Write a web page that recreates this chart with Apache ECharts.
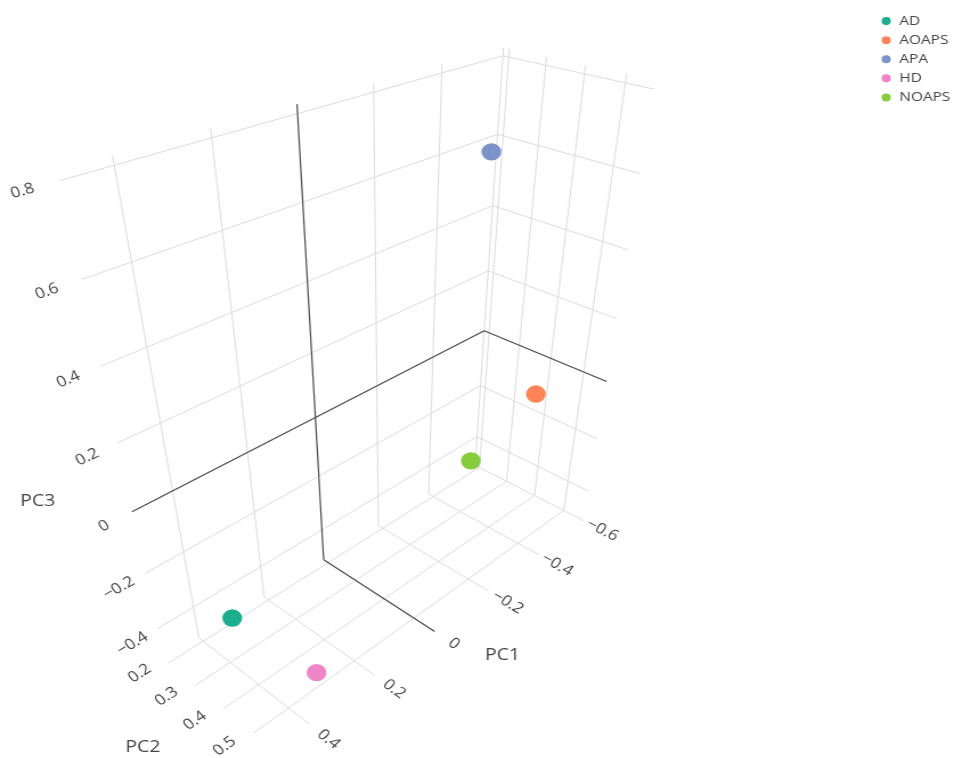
<!DOCTYPE html>
<html>
<head>
<meta charset="utf-8">
<script src="https://cdn.jsdelivr.net/npm/echarts@6/dist/echarts.min.js"></script>
<style>
  html, body { margin: 0; padding: 0; background: #ffffff; overflow: hidden; }
  /* the scene is laid out on an 851px canvas and widened to 970px */
  #chart { width: 851px; height: 758px; transform: scaleX(1.1398); transform-origin: 0 0; }
</style>
</head>
<body>
<div id="chart"></div>
<script>
// Group scores on the first three principal components
const groups = ['AD', 'AOAPS', 'APA', 'HD', 'NOAPS'];
const pc1 = [0.468, -0.568, -0.201, 0.325, -0.533];
const pc2 = [0.436, 0.389, 0.485, 0.513, 0.220];
const pc3 = [-0.185, -0.114, 0.741, -0.441, -0.441];
const groupColors = ['#1aae8f', '#fd8458', '#7b93c9', '#ee86c6', '#86cc3c'];

// Axis ranges, ticks and titles
const pc1Range = [-0.6, 0.5];
const pc2Range = [0.1834, 0.567];
const pc3Range = [-0.52, 0.82];
const pc1Ticks = [-0.6, -0.4, -0.2, 0, 0.2, 0.4];
const pc2Ticks = [0.2, 0.3, 0.4, 0.5];
const pc3Ticks = [-0.4, -0.2, 0, 0.2, 0.4, 0.6, 0.8];
const axisTitles = ['PC1', 'PC2', 'PC3'];

// Perspective camera looking at the middle of the box
const ranges = [pc1Range, pc2Range, pc3Range];
const target = ranges.map(r => (r[0] + r[1]) / 2);
const camAzimuth = 44 * Math.PI / 180;
const camElevation = Math.atan(1 / Math.SQRT2);
const camDistance = 2.2585;
const focal = 931;
const centerX = 343, centerY = 392;

const ce = Math.cos(camElevation), se = Math.sin(camElevation);
const ca = Math.cos(camAzimuth), sa = Math.sin(camAzimuth);
const fwd = [-ce * ca, -ce * sa, -se];
const rightVec = [-sa, ca, 0];
const upVec = [-se * ca, -se * sa, ce];
const eye = [target[0] + camDistance * ce * ca, target[1] + camDistance * ce * sa, target[2] + camDistance * se];

function dot(a, b) { return a[0] * b[0] + a[1] * b[1] + a[2] * b[2]; }
function project(p) {
  const d = [p[0] - eye[0], p[1] - eye[1], p[2] - eye[2]];
  const depth = dot(d, fwd);
  return [centerX + focal * dot(d, rightVec) / depth, centerY - focal * dot(d, upVec) / depth];
}
// readable rotation of a label running along a world direction
function labelRotation(p, dir) {
  const a = project(p);
  const b = project([p[0] + dir[0] * 0.05, p[1] + dir[1] * 0.05, p[2] + dir[2] * 0.05]);
  let ang = Math.atan2(b[1] - a[1], b[0] - a[0]);
  if (ang > Math.PI / 2) ang -= Math.PI;
  else if (ang < -Math.PI / 2) ang += Math.PI;
  return -ang;
}
function fmtTick(v) {
  const s = String(+Math.abs(v).toFixed(2));
  return v < -1e-9 ? '\u2212' + s : s;
}

// Grid walls: 0 = back wall at PC2 min, 1 = side wall at PC1 min, 2 = floor at PC3 min
function gridSegment(axis, v, wall) {
  const [x0, x1] = pc1Range, [y0, y1] = pc2Range, [z0, z1] = pc3Range;
  if (axis === 0) return wall === 0 ? [[v, y0, z0], [v, y0, z1]] : [[v, y0, z0], [v, y1, z0]];
  if (axis === 1) return wall === 1 ? [[x0, v, z0], [x0, v, z1]] : [[x0, v, z0], [x1, v, z0]];
  return wall === 0 ? [[x0, y0, v], [x1, y0, v]] : [[x0, y0, v], [x0, y1, v]];
}
const gridRows = [];
pc1Ticks.forEach(v => { gridRows.push([0, v, 0], [0, v, 2]); });
pc2Ticks.forEach(v => { gridRows.push([1, v, 1], [1, v, 2]); });
pc3Ticks.forEach(v => { gridRows.push([2, v, 0], [2, v, 1]); });
// zero lines are drawn last so they sit above the light grid
gridRows.sort((a, b) => (Math.abs(a[1]) < 1e-9 ? 1 : 0) - (Math.abs(b[1]) < 1e-9 ? 1 : 0));

// Tick label placement: just outside the labelled box edge
function tickAnchor(axis, v) {
  const [x0, x1] = pc1Range, [y0, y1] = pc2Range, [z0] = pc3Range;
  if (axis === 0) return { p: [v, y1 + 0.06, z0], dir: [0, 1, 0] };
  if (axis === 1) return { p: [x1 + 0.074, v, z0 + 0.027], dir: [1, 0, 0] };
  return { p: [x1 + 0.066, y0, v], dir: [1, 0, 0] };
}
function titleAnchor(axis) {
  const [x0, x1] = pc1Range, [y0, y1] = pc2Range, [z0] = pc3Range;
  if (axis === 0) return [target[0], y1 + 0.165, z0];
  if (axis === 1) return [x1 + 0.19, target[1], z0 + 0.02];
  return [x1 + 0.18, y0, target[2]];
}
const tickRows = [];
pc1Ticks.forEach(v => tickRows.push([0, v]));
pc2Ticks.forEach(v => tickRows.push([1, v]));
pc3Ticks.forEach(v => tickRows.push([2, v]));
const titleRows = [[0], [1], [2]];

const fontFamily = '"Open Sans", "Noto Sans", sans-serif';

const chart = echarts.init(document.getElementById('chart'));
chart.setOption({
  backgroundColor: '#ffffff',
  animation: false,
  legend: {
    orient: 'vertical',
    left: 768.5,
    top: 6.5,
    icon: 'circle',
    itemWidth: 13,
    itemHeight: 8,
    itemGap: 0,
    data: groups,
    textStyle: { color: '#444444', fontSize: 13.5, fontFamily: fontFamily, lineHeight: 19.1 }
  },
  series: [
    {
      type: 'custom',
      name: 'grid',
      coordinateSystem: 'none',
      silent: true,
      data: gridRows,
      renderItem: function (params, api) {
        const axis = api.value(0), v = api.value(1), wall = api.value(2);
        const seg = gridSegment(axis, v, wall).map(project);
        const zero = Math.abs(v) < 1e-9;
        return {
          type: 'line',
          shape: { x1: seg[0][0], y1: seg[0][1], x2: seg[1][0], y2: seg[1][1] },
          style: { stroke: zero ? '#4a4a4a' : '#dddddd', lineWidth: zero ? 1.2 : 1 }
        };
      }
    },
    {
      type: 'custom',
      name: 'ticks',
      coordinateSystem: 'none',
      silent: true,
      data: tickRows,
      renderItem: function (params, api) {
        const axis = api.value(0), v = api.value(1);
        const a = tickAnchor(axis, v);
        const s = project(a.p);
        return {
          type: 'text',
          x: s[0], y: s[1],
          rotation: labelRotation(a.p, a.dir),
          style: {
            text: fmtTick(v), fill: '#444444', fontSize: 15, fontFamily: fontFamily,
            align: 'center', verticalAlign: 'middle'
          }
        };
      }
    },
    {
      type: 'custom',
      name: 'titles',
      coordinateSystem: 'none',
      silent: true,
      data: titleRows,
      renderItem: function (params, api) {
        const axis = api.value(0);
        const s = project(titleAnchor(axis));
        return {
          type: 'text',
          x: s[0], y: s[1],
          style: {
            text: axisTitles[axis], fill: '#444444', fontSize: 17, fontFamily: fontFamily,
            align: 'center', verticalAlign: 'middle'
          }
        };
      }
    }
  ].concat(groups.map(function (g, i) {
    return {
      type: 'custom',
      name: g,
      coordinateSystem: 'none',
      itemStyle: { color: groupColors[i] },
      data: [[pc1[i], pc2[i], pc3[i]]],
      renderItem: function (params, api) {
        const s = project([api.value(0), api.value(1), api.value(2)]);
        return {
          type: 'circle',
          shape: { cx: s[0], cy: s[1], r: 8.7 },
          style: { fill: api.visual('color') }
        };
      }
    };
  }))
});
</script>
</body>
</html>
